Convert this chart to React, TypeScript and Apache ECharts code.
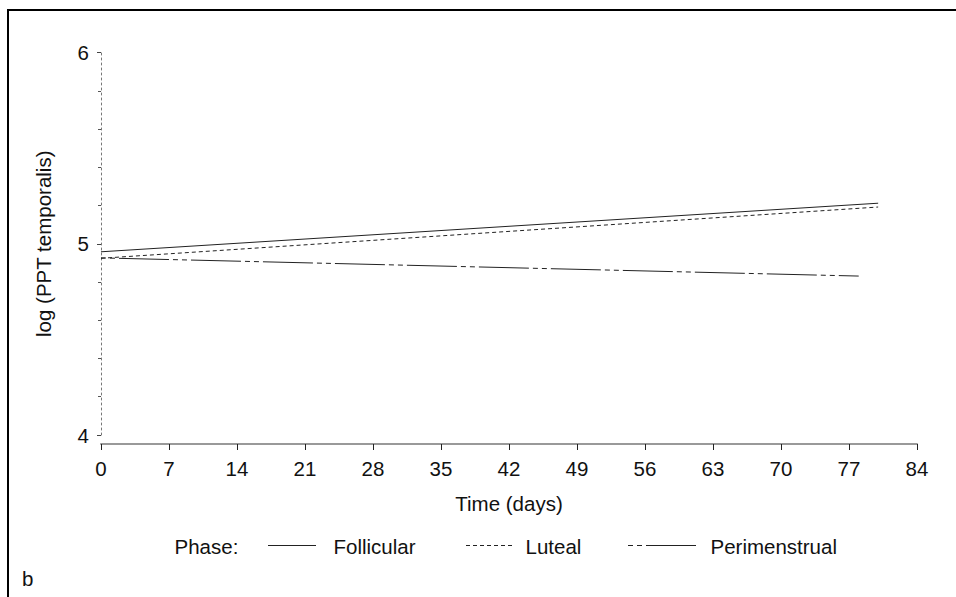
import React, { useEffect, useRef } from "react";
import * as echarts from "echarts";

const xTicks = [0, 7, 14, 21, 28, 35, 42, 49, 56, 63, 70, 77, 84];
const yTicks = [4, 5, 6];
const phases = ["Follicular", "Luteal", "Perimenstrual"];
const follicularDays = [0, 80];
const follicularValues = [4.958, 5.212];
const lutealDays = [0, 80];
const lutealValues = [4.924, 5.192];
const perimenstrualDays = [0, 78];
const perimenstrualValues = [4.926, 4.831];

const FONT = "'Liberation Sans', Arial, sans-serif";
const FS = 20.5;
const LINE = "#222";

const dashStyles: Record<string, any> = {
  Follicular: "solid",
  Luteal: [4, 3],
  Perimenstrual: [5, 4, 5, 4, 50, 4],
};

function pairs(xs: number[], ys: number[]) {
  return xs.map((x, i) => [x, ys[i]]);
}

export default function App() {
  const ref = useRef<HTMLDivElement>(null);
  useEffect(() => {
    if (!ref.current) return;
    const chart = echarts.init(ref.current, null, { renderer: "svg" });
    const seriesData: Record<string, number[][]> = {
      Follicular: pairs(follicularDays, follicularValues),
      Luteal: pairs(lutealDays, lutealValues),
      Perimenstrual: pairs(perimenstrualDays, perimenstrualValues),
    };
    const legendY = 545.5;
    const legendItems = [
      { name: phases[0], x1: 268, x2: 316, tx: 333.5 },
      { name: phases[1], x1: 466, x2: 514, tx: 525.5 },
      { name: phases[2], x1: 628, x2: 697, tx: 710.5 },
    ];
    const graphic: any[] = [
      {
        type: "rect",
        silent: true,
        shape: { x: 8, y: 10, width: 2000, height: 2000 },
        style: { fill: "none", stroke: "#000", lineWidth: 2 },
      },
      {
        type: "text",
        x: 22,
        y: 578,
        style: { text: "b", font: `${FS}px ${FONT}`, fill: "#111", verticalAlign: "middle", align: "left" },
      },
      {
        type: "text",
        x: 174.5,
        y: 546,
        style: { text: "Phase:", font: `${FS}px ${FONT}`, fill: "#111", verticalAlign: "middle", align: "left" },
      },
    ];
    legendItems.forEach((it) => {
      graphic.push({
        type: "line",
        shape: { x1: it.x1, y1: legendY, x2: it.x2, y2: legendY },
        style: { stroke: LINE, lineWidth: 1, lineDash: dashStyles[it.name] === "solid" ? null : dashStyles[it.name] },
      });
      graphic.push({
        type: "text",
        x: it.tx,
        y: 546,
        style: { text: it.name, font: `${FS}px ${FONT}`, fill: "#111", verticalAlign: "middle", align: "left" },
      });
    });

    chart.setOption({
      animation: false,
      backgroundColor: "#fff",
      grid: { left: 101, right: 39, top: 52.5, bottom: 162, containLabel: false },
      xAxis: {
        type: "value",
        min: 0,
        max: 84,
        interval: 7,
        offset: 9,
        name: "Time (days)",
        nameLocation: "middle",
        nameGap: 49,
        nameTextStyle: { fontFamily: FONT, fontSize: FS, color: "#111" },
        axisLine: { show: true, lineStyle: { color: "#999", width: 2 } },
        axisTick: { show: true, length: 6, lineStyle: { color: "#222", width: 1 } },
        axisLabel: { fontFamily: FONT, fontSize: FS, color: "#111", margin: 14,
          formatter: (v: number) => (xTicks.includes(v) ? String(v) : "") },
        splitLine: { show: false },
      },
      yAxis: {
        type: "value",
        min: 4,
        max: 6,
        interval: 1,
        offset: 4,
        name: "log (PPT temporalis)",
        nameLocation: "middle",
        nameGap: 43,
        nameTextStyle: { fontFamily: FONT, fontSize: FS, color: "#111" },
        axisLine: { show: true, lineStyle: { color: "#777", width: 1, type: [2, 3] } },
        axisTick: { show: true, length: 4, lineStyle: { color: "#444", width: 1 } },
        minorTick: { show: true, splitNumber: 5, length: 3, lineStyle: { color: "#555", width: 1 } },
        axisLabel: { fontFamily: FONT, fontSize: FS, color: "#111", margin: 8,
          formatter: (v: number) => (yTicks.includes(v) ? String(v) : "") },
        splitLine: { show: false },
      },
      series: phases.map((p) => ({
        name: p,
        type: "line",
        data: seriesData[p],
        showSymbol: false,
        symbol: "none",
        lineStyle: { color: LINE, width: 1, type: dashStyles[p] },
      })),
      graphic,
    });
    return () => chart.dispose();
  }, []);
  return (
    <div
      ref={ref}
      style={{ position: "absolute", left: 0, top: 0, width: 956, height: 597, background: "#fff" }}
    />
  );
}
